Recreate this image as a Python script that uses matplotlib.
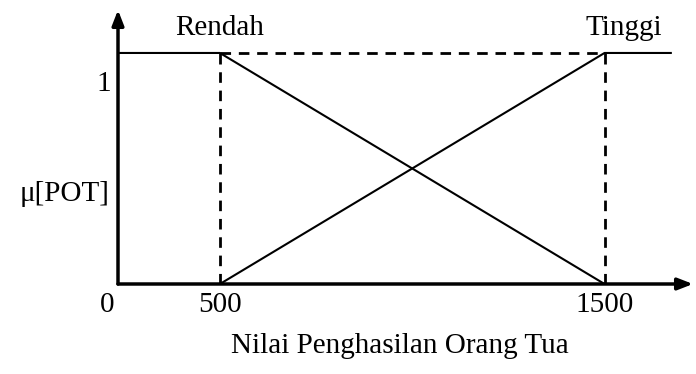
import numpy as np
import matplotlib
matplotlib.use("Agg")
import matplotlib.pyplot as plt

# data
x_breaks = [0, 500, 1500]
x_tick_labels = ["0", "500", "1500"]
rendah_x = [0, 500, 1500]
rendah_y = [1, 1, 0]
tinggi_x = [500, 1500, 1675]
tinggi_y = [0, 1, 1]
dash_v_x = [500, 1500]
dash_top_x = [500, 1500]
x_end = 1730
y_top = 1.186

plt.rcParams['font.family'] = ['Liberation Serif', 'DejaVu Serif']
FS = 21

W, H = 696, 374
fig = plt.figure(figsize=(W/100, H/100), dpi=100)

ox, oy = 118, 284   # origin pixel
right_px, top_px = 693, 10
ax = fig.add_axes([ox/W, (H-oy)/H, (right_px-ox)/W, (oy-top_px)/H])

# piecewise schematic x-scale
src = [0, 500, 1500, 3000]
dst = [0, 102, 487, 487 + 1500*0.385]
fwd = lambda v: np.interp(v, src, dst)
inv = lambda v: np.interp(v, dst, src)
ax.set_xscale('function', functions=(fwd, inv))
ax.set_xlim(0, x_end)
ax.set_ylim(0, y_top)

for s in ax.spines.values():
    s.set_visible(False)
ax.set_xticks([])
ax.set_yticks([])
ax.patch.set_alpha(0)

lw = 1.5
ax.plot(rendah_x, rendah_y, color='black', lw=lw, solid_capstyle='butt')
ax.plot(tinggi_x, tinggi_y, color='black', lw=lw, solid_capstyle='butt')
for xv in dash_v_x:
    ax.plot([xv, xv], [0, 1], color='black', lw=2, dashes=(3.8, 2.8))
ax.plot(dash_top_x, [1, 1], color='black', lw=2, dashes=(3.8, 2.8))

# axes with arrows
ax.annotate('', xy=(1, 0), xycoords='axes fraction', xytext=(0, 0),
            arrowprops=dict(arrowstyle='-|>,head_length=0.9,head_width=0.35',
                            lw=2.5, color='black', shrinkA=0, shrinkB=0))
ax.annotate('', xy=(0, 1), xycoords='axes fraction', xytext=(0, 0),
            arrowprops=dict(arrowstyle='-|>,head_length=0.9,head_width=0.35',
                            lw=2.5, color='black', shrinkA=0, shrinkB=0))

# labels
ax.text(500, 1.107, "Rendah", ha='center', va='center', fontsize=FS)
ax.text(1550, 1.107, "Tinggi", ha='center', va='center', fontsize=FS)
ax.text(-0.012, 0.865, "1", transform=ax.get_yaxis_transform(), ha='right', va='center', fontsize=FS)
ax.text(-0.014, 0.39, "μ[POT]", transform=ax.get_yaxis_transform(), ha='right', va='center', fontsize=FS)

for xv, lab in zip(x_breaks, x_tick_labels):
    off = -11 if xv == 0 else 0
    ax.annotate(lab, xy=(xv, 0), xycoords=('data', 'axes fraction'),
                xytext=(off, -21), textcoords='offset pixels',
                ha='center', va='center', fontsize=FS)

fig.text(400/W, 1 - 346/H, "Nilai Penghasilan Orang Tua", ha='center', va='center', fontsize=FS)

fig.savefig("out.png", dpi=100)
